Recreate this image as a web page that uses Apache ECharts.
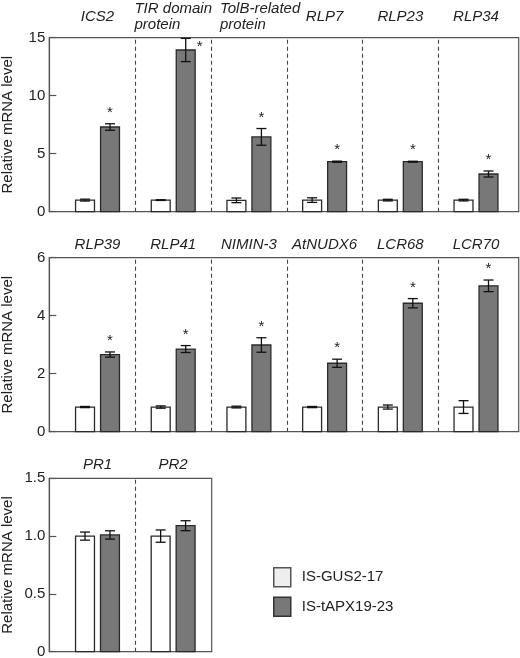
<!DOCTYPE html>
<html>
<head>
<meta charset="utf-8">
<script src="https://cdn.jsdelivr.net/npm/echarts@6/dist/echarts.min.js"></script>
<style>
html,body{margin:0;padding:0;background:#fff;}
#chart{width:520px;height:658px;}
</style>
</head>
<body>
<div id="chart"></div>
<script>
// ---------- data ----------
const seriesNames = ['IS-GUS2-17', 'IS-tAPX19-23'];
const yAxisName = 'Relative mRNA level';

const topGenes = ['ICS2', 'TIR domain\nprotein', 'TolB-related\nprotein', 'RLP7', 'RLP23', 'RLP34'];
const topGus = [1.0, 1.0, 0.98, 1.0, 1.0, 1.0];
const topGusErr = [0.08, 0.03, 0.2, 0.2, 0.07, 0.07];
const topApx = [7.3, 13.94, 6.45, 4.31, 4.31, 3.25];
const topApxErr = [0.28, 1.0, 0.72, 0.05, 0.04, 0.26];
const topSig = [1, 1, 1, 1, 1, 1];
const topTicks = [0, 5, 10, 15];

const midGenes = ['RLP39', 'RLP41', 'NIMIN-3', 'AtNUDX6', 'LCR68', 'LCR70'];
const midGus = [0.85, 0.85, 0.85, 0.85, 0.85, 0.85];
const midGusErr = [0.02, 0.04, 0.03, 0.02, 0.07, 0.22];
const midApx = [2.66, 2.85, 2.99, 2.36, 4.43, 5.03];
const midApxErr = [0.09, 0.12, 0.25, 0.14, 0.16, 0.2];
const midSig = [1, 1, 1, 1, 1, 1];
const midTicks = [0, 2, 4, 6];

const botGenes = ['PR1', 'PR2'];
const botGus = [1.0, 1.0];
const botGusErr = [0.035, 0.053];
const botApx = [1.01, 1.09];
const botApxErr = [0.036, 0.043];
const botSig = [0, 0];
const botTicks = [0, 0.5, 1.0, 1.5];

// ---------- styling ----------
const FONT = '"Liberation Sans", Arial, sans-serif';
const TXT = '#222';
const AXIS = '#555';
const GUS_FILL = '#ffffff';
const APX_FILL = '#787878';
const BAR_STROKE = '#2a2a2a';

const measureCtx = document.createElement('canvas').getContext('2d');
function textWidth(s) {
  measureCtx.font = 'italic 15px ' + FONT;
  return Math.max(...s.split('\n').map(l => measureCtx.measureText(l).width));
}

const panels = [
  { genes: topGenes, gus: topGus, gusErr: topGusErr, apx: topApx, apxErr: topApxErr, sig: topSig, ticks: topTicks,
    grid: { left: 49.3, top: 37.7, width: 469.4, height: 174 }, xMin: -0.637, xMax: 5.564 },
  { genes: midGenes, gus: midGus, gusErr: midGusErr, apx: midApx, apxErr: midApxErr, sig: midSig, ticks: midTicks,
    grid: { left: 49.3, top: 257.7, width: 469.4, height: 174 }, xMin: -0.637, xMax: 5.564 },
  { genes: botGenes, gus: botGus, gusErr: botGusErr, apx: botApx, apxErr: botApxErr, sig: botSig, ticks: botTicks,
    grid: { left: 49.3, top: 478.3, width: 162.4, height: 173.4 }, xMin: -0.637, xMax: 1.51 }
];

function barRenderer(side, fill) {
  return function (params, api) {
    const i = api.value(0), v = api.value(1), e = api.value(2), sig = api.value(3);
    const unit = api.size([1, 0])[0];
    const base = api.coord([i, 0]);
    const topPt = api.coord([i, v]);
    const cx = base[0] + side * unit * 0.165;
    const bw = unit * 0.25;
    const hi = api.coord([i, v + e])[1];
    const lo = api.coord([i, v - e])[1];
    const cap = 5;
    const children = [
      { type: 'rect', shape: { x: cx - bw / 2, y: topPt[1], width: bw, height: base[1] - topPt[1] },
        style: { fill: fill, stroke: BAR_STROKE, lineWidth: 1.3 } },
      { type: 'line', shape: { x1: cx, y1: hi, x2: cx, y2: lo }, style: { stroke: '#111', lineWidth: 1.3 } },
      { type: 'line', shape: { x1: cx - cap, y1: hi, x2: cx + cap, y2: hi }, style: { stroke: '#111', lineWidth: 1.3 } },
      { type: 'line', shape: { x1: cx - cap, y1: lo, x2: cx + cap, y2: lo }, style: { stroke: '#111', lineWidth: 1.3 } }
    ];
    if (sig) {
      const gridTop = params.coordSys.y;
      let sx = cx, sy = hi - 11;
      if (sy - 6 < gridTop) { sx = cx + 14; sy = hi + 8; }
      children.push({ type: 'text', style: { text: '*', x: sx, y: sy, fill: TXT, fontSize: 15,
        fontFamily: FONT, align: 'center', verticalAlign: 'middle' } });
    }
    return { type: 'group', children: children };
  };
}

function titleRenderer(genes) {
  const maxLines = Math.max(...genes.map(g => g.split('\n').length));
  return function (params, api) {
    const i = api.value(0);
    const gridTop = params.coordSys.y;
    const y = gridTop - (maxLines * 8 + 5);
    let prevRight = -Infinity, x = 0, align = 'center';
    for (let k = 0; k <= i; k++) {
      const c = api.coord([k, 0])[0];
      const w = textWidth(genes[k]);
      let left = c - w / 2;
      if (genes[k].includes('\n')) left = Math.max(left, prevRight + 8);
      prevRight = left + w;
      if (k === i) {
        if (genes[k].includes('\n')) { x = left; align = 'left'; } else { x = c; align = 'center'; }
      }
    }
    return { type: 'text', style: { text: genes[i], x: x, y: y, fill: TXT, fontSize: 15, fontStyle: 'italic',
      fontFamily: FONT, align: align, verticalAlign: 'middle', lineHeight: 16 } };
  };
}

const grids = [], xAxes = [], yAxes = [], series = [];
panels.forEach((p, idx) => {
  grids.push(Object.assign({ show: true, borderColor: AXIS, borderWidth: 1.2, backgroundColor: 'transparent',
    containLabel: false, outerBoundsMode: 'none' }, p.grid));
  xAxes.push({ type: 'value', gridIndex: idx, min: p.xMin, max: p.xMax,
    axisLine: { show: true, onZero: false, lineStyle: { color: AXIS, width: 1.2 } },
    axisTick: { show: false }, axisLabel: { show: false }, splitLine: { show: false } });
  const step = p.ticks[1] - p.ticks[0];
  yAxes.push({ type: 'value', gridIndex: idx, min: p.ticks[0], max: p.ticks[p.ticks.length - 1], interval: step,
    name: yAxisName, nameLocation: 'middle', nameGap: 34, nameRotate: 90,
    nameTextStyle: { fontSize: 15, color: TXT, fontFamily: FONT },
    axisLine: { show: true, onZero: false, lineStyle: { color: AXIS, width: 1.2 } },
    axisTick: { show: true, inside: true, length: 7, lineStyle: { color: AXIS, width: 1.2 } },
    axisLabel: { fontSize: 15, color: TXT, fontFamily: FONT, margin: 4,
      formatter: v => (idx === 2 ? (v === 0 ? '0' : v.toFixed(1)) : String(v)) },
    splitLine: { show: false } });
  const dividers = p.genes.slice(1).map((g, k) => ({ xAxis: k + 0.5 }));
  series.push({
    type: 'custom', name: 'titles-' + idx, xAxisIndex: idx, yAxisIndex: idx, silent: true,
    data: p.genes.map((g, i) => [i, 0]), renderItem: titleRenderer(p.genes),
    markLine: { silent: true, symbol: ['none', 'none'], label: { show: false },
      lineStyle: { type: [4, 3], color: '#444', width: 1.1 }, data: dividers }
  });
  series.push({
    type: 'custom', name: seriesNames[0], xAxisIndex: idx, yAxisIndex: idx, silent: true,
    itemStyle: { color: '#eeeeee', borderColor: '#555', borderWidth: 1.5 },
    data: p.genes.map((g, i) => [i, p.gus[i], p.gusErr[i], 0]), renderItem: barRenderer(-1, GUS_FILL)
  });
  series.push({
    type: 'custom', name: seriesNames[1], xAxisIndex: idx, yAxisIndex: idx, silent: true,
    itemStyle: { color: APX_FILL, borderColor: '#333', borderWidth: 1.5 },
    data: p.genes.map((g, i) => [i, p.apx[i], p.apxErr[i], p.sig[i]]), renderItem: barRenderer(1, APX_FILL)
  });
});

const chart = echarts.init(document.getElementById('chart'), null, { renderer: 'canvas' });
chart.setOption({
  animation: false,
  backgroundColor: '#fff',
  grid: grids,
  xAxis: xAxes,
  yAxis: yAxes,
  legend: {
    data: [
      { name: seriesNames[0], icon: 'rect', itemStyle: { color: '#eeeeee', borderColor: '#555', borderWidth: 1.5 } },
      { name: seriesNames[1], icon: 'rect', itemStyle: { color: APX_FILL, borderColor: '#333', borderWidth: 1.5 } }
    ],
    orient: 'vertical', left: 273, top: 567, itemWidth: 17, itemHeight: 19, itemGap: 9, padding: 0,
    selectedMode: false,
    textStyle: { fontSize: 15, color: TXT, fontFamily: FONT, padding: [0, 0, 0, 6] }
  },
  series: series
});
</script>
</body>
</html>
